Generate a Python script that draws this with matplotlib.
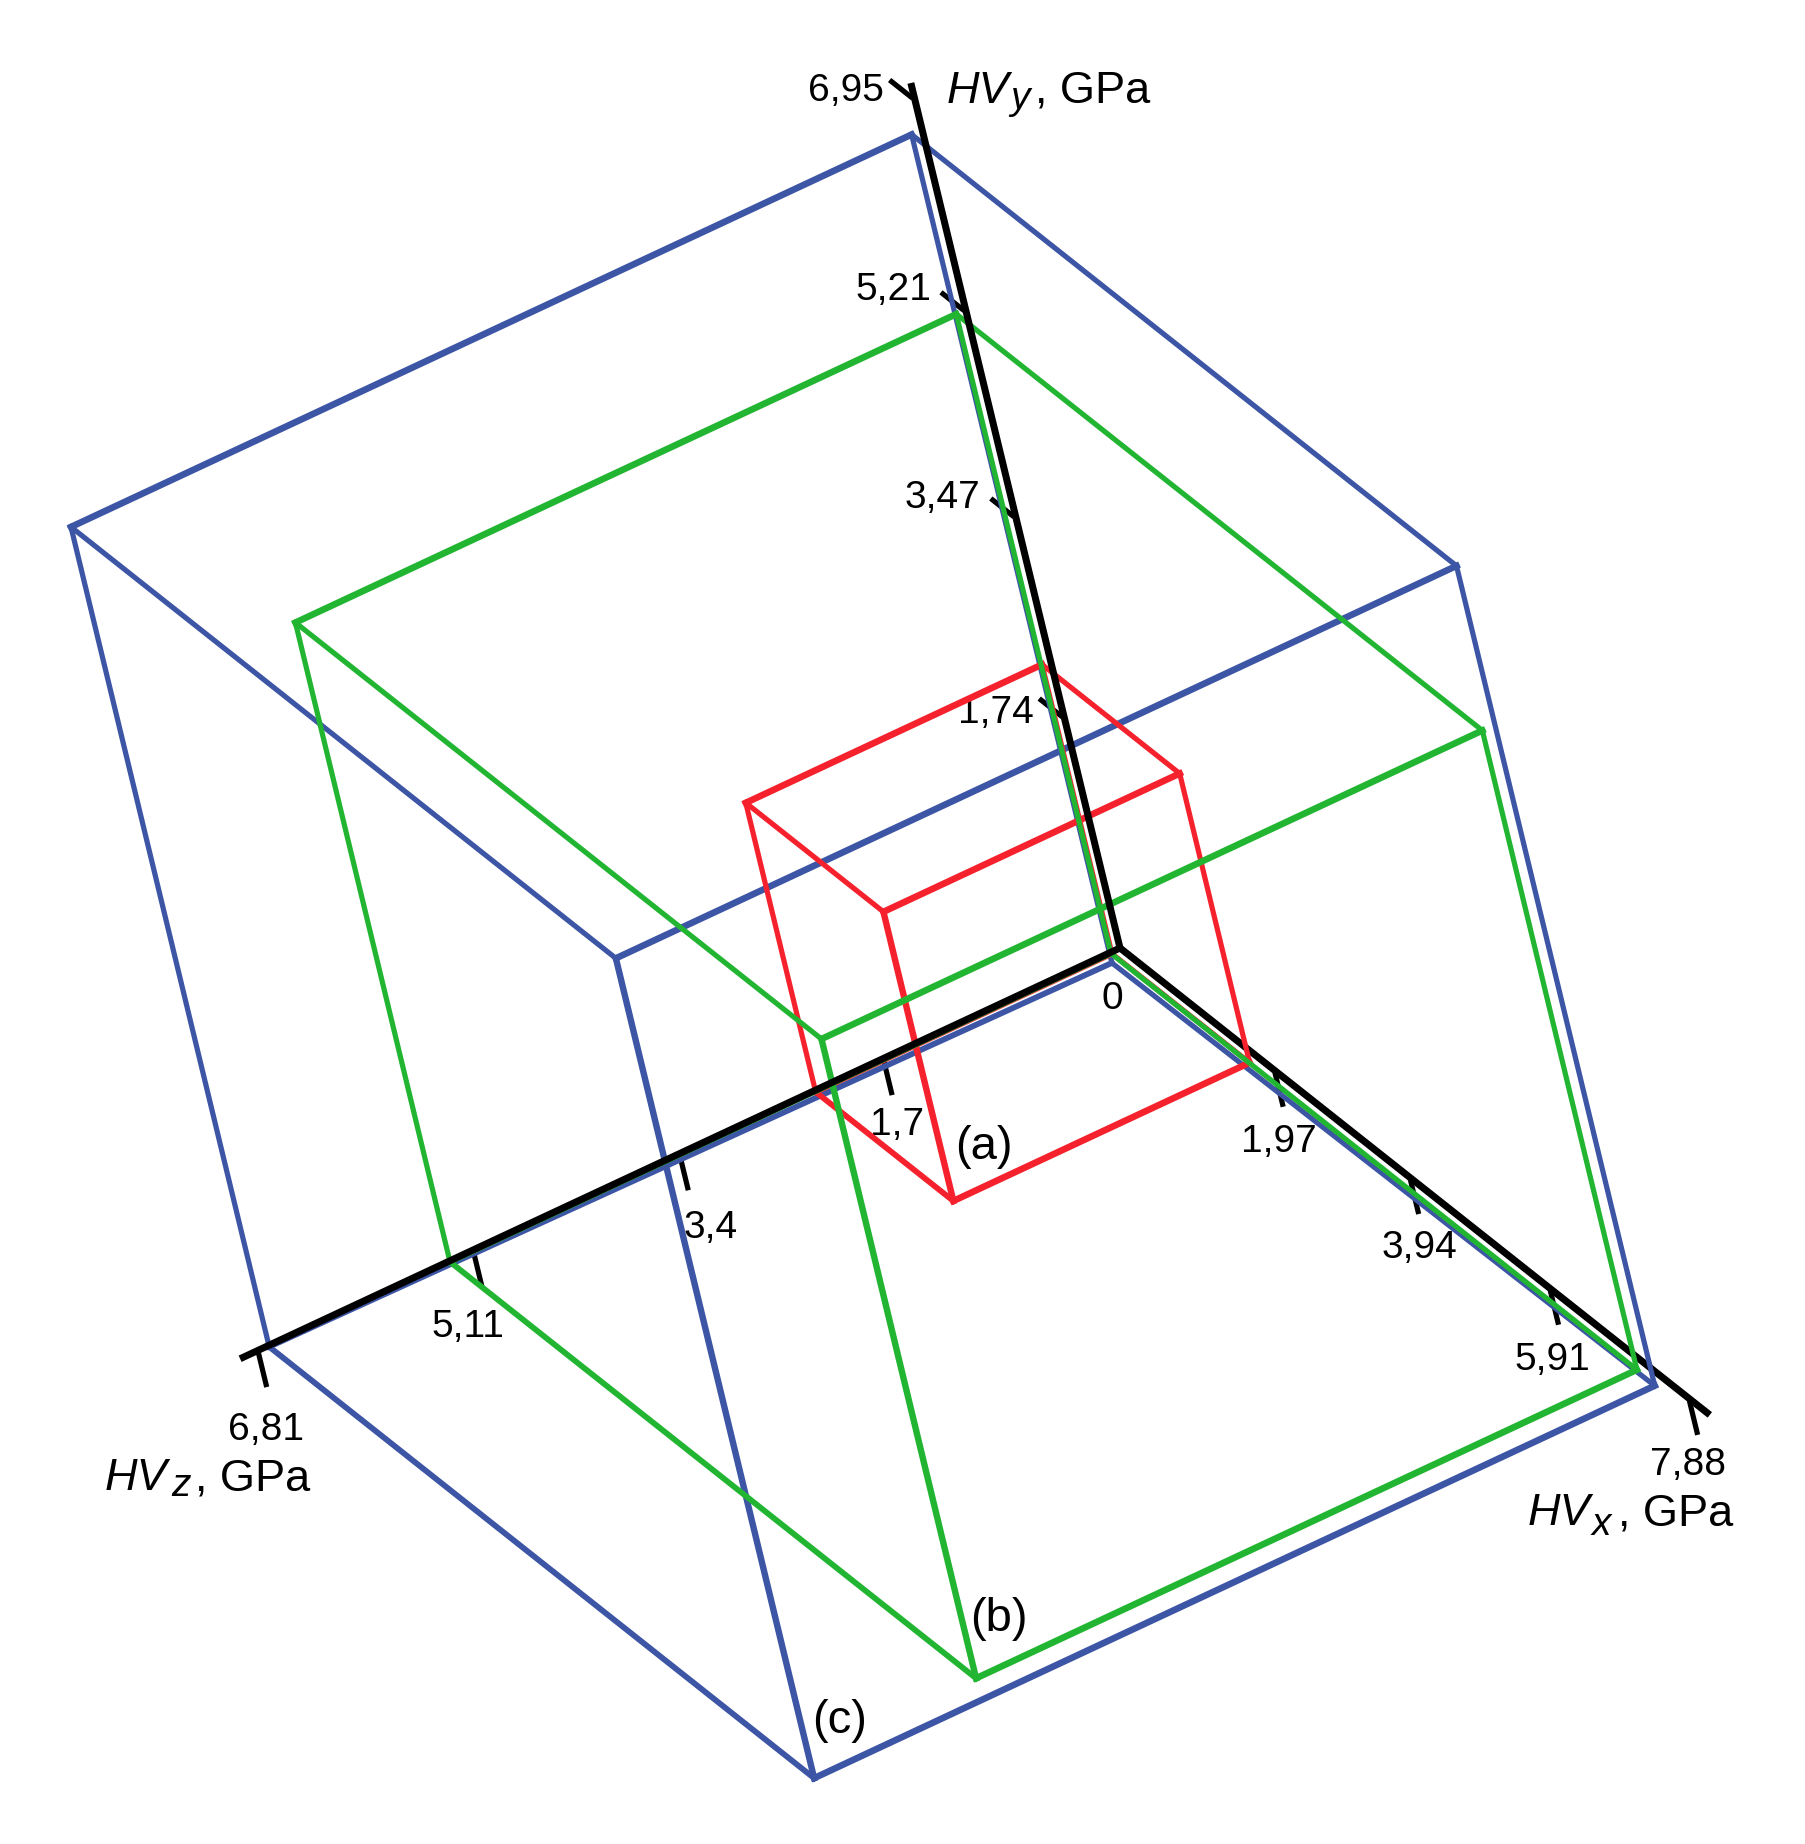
import numpy as np
import matplotlib
matplotlib.use("Agg")
import matplotlib.pyplot as plt

plt.rcParams['font.family'] = ['Liberation Sans', 'DejaVu Sans']

# box extents, GPa (x, y, z)
box_a = [1.90, 2.37, 2.34]
box_b = [7.26, 5.24, 5.22]
box_c = [7.52, 6.72, 6.64]
# small shift of each box against the black axes, GPa (x, y, z)
shift_a = [0.0, -0.014, 0.067]
shift_b = [0.0, -0.008, 0.074]
shift_c = [0.0, -0.012, 0.083]
# the corner nearest the origin sits a little lower than the box would put it, GPa of y
corner_drop = {"a": 0.0, "b": 0.0, "c": 0.07}

# tick labels and where the tick really sits on its axis
x_labels = ["1,97", "3,94", "5,91", "7,88"]
x_ticks = [2.13, 4.00, 5.93, 7.85]
y_labels = ["1,74", "3,47", "5,21", "6,95"]
y_ticks = [1.88, 3.52, 5.21, 6.95]
z_labels = ["1,7", "3,4", "5,11", "6,81"]
z_ticks = [1.87, 3.48, 5.11, 6.81]
axis_ends = [8.14, 7.09, 6.95]

BLUE = "#3D55A5"
GREEN = "#22B532"
RED = "#F5222D"

# oblique projection, pixels per GPa along each axis
ORIGIN = np.array([1120.0, 948.0])
BASIS = np.array([[72.46, 57.36], [-29.5, -122.0], [-126.6, 59.1]])


def project(p):
    return ORIGIN + np.dot(np.asarray(p, dtype=float), BASIS)


def px(w):
    return w * 0.72


def draw_box(ax, size, shift, drop, color, zorder):
    sx, sy, sz = size
    o = np.array(shift)
    dx, dy, dz = np.array([sx, 0, 0]), np.array([0, sy, 0]), np.array([0, 0, sz])
    near = o - np.array([0, drop, 0])
    # start, end, width in pixels, z edges are drawn heavier in the original
    edges = [(near, o + dx, 5.2), (o + dz, o + dz + dx, 5.8), (o + dy, o + dy + dx, 5.2), (o + dy + dz, o + dy + dz + dx, 5.2),
             (near, o + dy, 5.2), (o + dx, o + dx + dy, 5.2), (o + dz, o + dz + dy, 5.2), (o + dx + dz, o + dx + dz + dy, 6.4),
             (near, o + dz, 5.8), (o + dx, o + dx + dz, 6.6), (o + dy, o + dy + dz, 6.6), (o + dx + dy, o + dx + dy + dz, 6.6)]
    for start, end, w in edges:
        a, b = project(start), project(end)
        ax.plot([a[0], b[0]], [a[1], b[1]], color=color, lw=px(w),
                solid_capstyle='projecting', zorder=zorder)


fig = plt.figure(figsize=(18.06, 18.44), dpi=100)
ax = fig.add_axes([0, 0, 1, 1])
ax.set_xlim(0, 1806)
ax.set_ylim(1844, 0)
ax.axis('off')

draw_box(ax, box_c, shift_c, corner_drop["c"], BLUE, 3)
draw_box(ax, box_a, shift_a, corner_drop["a"], RED, 4)
draw_box(ax, box_b, shift_b, corner_drop["b"], GREEN, 5)

# axes
for i in range(3):
    end = [0, 0, 0]
    end[i] = axis_ends[i]
    a, b = project([0, 0, 0]), project(end)
    ax.plot([a[0], b[0]], [a[1], b[1]], color="black", lw=px(7),
            solid_capstyle='butt', zorder=6 if i != 0 else 2)

# ticks, x and z ones point along -y, y ones along -x
for v in x_ticks:
    a, b = project([v, -0.02, 0]), project([v, -0.3, 0])
    ax.plot([a[0], b[0]], [a[1], b[1]], color="black", lw=px(5.2), solid_capstyle='butt', zorder=1)
for v in z_ticks:
    a, b = project([0, -0.02, v]), project([0, -0.3, v])
    ax.plot([a[0], b[0]], [a[1], b[1]], color="black", lw=px(5.2), solid_capstyle='butt', zorder=1)
for v in y_ticks:
    a, b = project([-0.03, v, 0]), project([-0.35, v, 0])
    ax.plot([a[0], b[0]], [a[1], b[1]], color="black", lw=px(5.2), solid_capstyle='butt', zorder=1)

fs = 28
for s, pos in zip(x_labels, [(1279, 1142), (1419, 1248), (1552, 1360), (1688, 1465)]):
    ax.text(pos[0], pos[1], s, fontsize=fs, ha='center', va='center')
for s, pos in zip(y_labels, [(996, 713), (942, 498), (893, 290), (846, 91)]):
    ax.text(pos[0], pos[1], s, fontsize=fs, ha='center', va='center')
for s, pos in zip(z_labels, [(897, 1125), (711, 1228), (468, 1327), (266, 1430)]):
    ax.text(pos[0], pos[1], s, fontsize=fs, ha='center', va='center')
ax.text(1112, 999, "0", fontsize=fs, ha='center', va='center')

ax.text(984, 1147, "(a)", fontsize=34, ha='center', va='center')
ax.text(999, 1619, "(b)", fontsize=34, ha='center', va='center')
ax.text(840, 1721, "(c)", fontsize=34, ha='center', va='center')

# axis titles: name, subscript, unit placed one by one
titles = [("y", 947, 103, 1010, 109, 1035), ("x", 1528, 1525, 1592, 1535, 1618), ("z", 105, 1490, 171, 1496, 195)]
for sub, x0, y0, x1, y1, x2 in titles:
    ax.text(x0, y0, "HV", fontsize=32.5, style='italic', ha='left', va='baseline')
    ax.text(x1, y1, sub, fontsize=28, style='italic', ha='left', va='baseline')
    ax.text(x2, y0, ", GPa", fontsize=32.5, ha='left', va='baseline')

fig.savefig("out.png", dpi=100, facecolor="white")
